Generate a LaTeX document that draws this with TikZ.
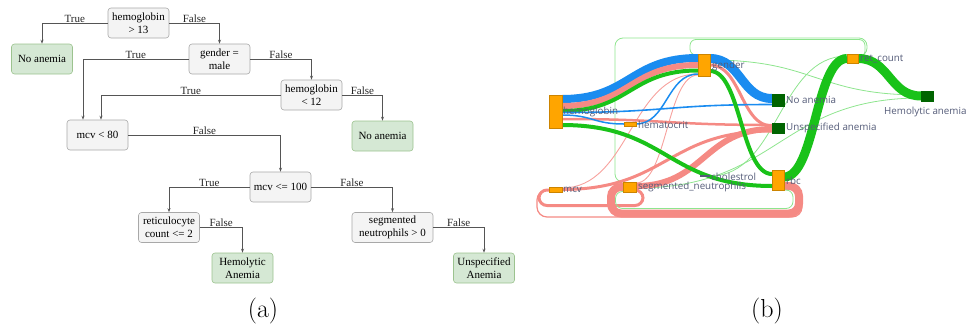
\documentclass[tikz,border=0pt]{standalone}
\usepackage{fontspec}
\newfontfamily\treefont{Liberation Serif}
\newfontfamily\skfont{Open Sans}
\usetikzlibrary{arrows.meta}
\definecolor{boxfill}{HTML}{F4F4F4}
\definecolor{boxdraw}{HTML}{A8A8A8}
\definecolor{leaffill}{HTML}{D5E8D4}
\definecolor{leafdraw}{HTML}{9CC38F}
\definecolor{edgecol}{HTML}{555555}
\definecolor{skblue}{HTML}{1A8CF0}
\definecolor{skpink}{HTML}{F58A84}
\definecolor{skgreen}{HTML}{19C219}
\definecolor{sklight}{HTML}{8EE58E}
\definecolor{skorange}{HTML}{FFA500}
\definecolor{skdark}{HTML}{006400}
\definecolor{sktext}{HTML}{545B78}
\newcommand{\sflow}[6]{\draw[line width=#6pt,#5] (#1,#2) .. controls ({(#1+#3)/2},#2) and ({(#1+#3)/2},#4) .. (#3,#4);}
\begin{document}
\begin{tikzpicture}[x=1pt,y=-1pt,
  tbox/.style={draw=boxdraw,fill=boxfill,rounded corners=3pt,minimum width=61pt,minimum height=30pt,align=center,inner sep=1pt,font=\treefont\fontsize{11}{13}\selectfont,line width=0.6pt},
  tleaf/.style={tbox,draw=leafdraw,fill=leaffill},
  tarr/.style={draw=edgecol,line width=0.7pt,-{Stealth[length=4pt,width=3pt]}},
  tlab/.style={above,inner sep=0.5pt,font=\treefont\fontsize{11}{13}\selectfont,text=black!85},
  snode/.style={fill=skorange,draw=skorange!80!black,line width=0.3pt},
  stgt/.style={fill=skdark,draw=skdark,line width=0.3pt},
  slab/.style={anchor=west,inner sep=0pt,font=\skfont\fontsize{9.8}{11}\selectfont,text=sktext},
  captext/.style={anchor=base,font=\fontsize{26}{30}\selectfont}]
\useasboundingbox (0,0) rectangle (967,327);

% ---------------- (a) decision tree ----------------
\node[tbox] (h13) at (138.5,23) {hemoglobin\\> 13};
\node[tleaf] (na1) at (42,59) {No anemia};
\node[tbox] (gm) at (219.5,59) {gender =\\male};
\node[tbox] (h12) at (311.5,95) {hemoglobin\\< 12};
\node[tleaf] (na2) at (382.5,136) {No anemia};
\node[tbox] (m80) at (97.5,135) {mcv < 80};
\node[tbox] (m100) at (280.5,187) {mcv <= 100};
\node[tbox] (ret) at (169,227.5) {reticulocyte\\count <= 2};
\node[tleaf] (hem) at (242.5,268) {Hemolytic\\Anemia};
\node[tbox,minimum width=81pt] (seg) at (392.5,227.5) {segmented\\neutrophils > 0};
\node[tleaf] (una) at (484,268) {Unspecified\\Anemia};

\draw[tarr] (h13.west) -| node[tlab,pos=0.25]{True} (na1.north);
\draw[tarr] (h13.east) -| node[tlab,pos=0.25]{False} (gm.north);
\draw[tarr] (gm.west) -| node[tlab,pos=0.25]{True} ([xshift=-14.5pt]m80.north);
\draw[tarr] (gm.east) -| node[tlab,pos=0.25]{False} (h12.north);
\draw[tarr] (h12.west) -| node[tlab,pos=0.25]{True} ([xshift=3.5pt]m80.north);
\draw[tarr] (h12.east) -| node[tlab,pos=0.25]{False} (na2.north);
\draw[tarr] (m80.east) -| node[tlab,pos=0.25]{False} (m100.north);
\draw[tarr] (m100.west) -| node[tlab,pos=0.25]{True} (ret.north);
\draw[tarr] (m100.east) -| node[tlab,pos=0.25]{False} (seg.north);
\draw[tarr] (ret.east) -| node[tlab,pos=0.25]{False} (hem.north);
\draw[tarr] (seg.east) -| node[tlab,pos=0.25]{False} (una.north);

\node[captext] (capa) at (263,317) {(a)};

% ---------------- (b) sankey ----------------
% loops
\draw[skpink,line width=1.2pt,rounded corners=10pt] (784,189) -- (802,189) -- (802,217) -- (537,217) -- (537,190) -- (549,190);
\draw[skpink,line width=8pt,rounded corners=10pt] (784,186) -- (799,186) -- (799,213.5) -- (611,213.5) -- (611,187) -- (623,187);
\draw[skpink,line width=3pt,rounded corners=8pt] (636,190) -- (643,190) -- (643,205.5) -- (539,205.5) -- (539,190) -- (549,190);
\draw[sklight,line width=0.8pt,rounded corners=7pt] (784,190) -- (793,190) -- (793,208.5) -- (615.5,208.5) -- (615.5,191.5) -- (623,191.5);
\draw[sklight,line width=0.8pt,rounded corners=8pt] (858,56) -- (867,56) -- (867,38) -- (615,38) -- (615,182) -- (623,182);
\draw[sklight,line width=0.8pt,rounded corners=6pt] (858,57) -- (865,57) -- (865,39.5) -- (690,39.5) -- (690,55) -- (698,55);

% thin links
\sflow{710}{60}{921}{95}{sklight}{0.8}
\sflow{710}{176}{847}{56}{sklight}{0.8}
\sflow{636}{188}{921}{98}{sklight}{0.8}
\sflow{562}{188}{698}{74}{skpink!80}{0.9}
\sflow{636}{183}{698}{75}{skpink!80}{0.9}
\sflow{562}{119}{772}{125}{skpink}{2.5}

% pink bands to unspecified anemia
\sflow{562}{189.5}{772}{131}{skpink}{3}
\sflow{636}{186}{772}{129}{skpink}{6}
\sflow{710}{65}{772}{126}{skpink}{3}

% main bands
\sflow{562}{99}{698}{58}{skblue}{8}
\sflow{562}{106}{698}{65}{skpink}{6}
\sflow{562}{111}{698}{70.5}{skgreen}{4}
\sflow{710}{58.5}{772}{98.5}{skblue}{9}
\sflow{562}{112.5}{772}{104.5}{skblue}{1.6}
\sflow{562}{115}{624}{124}{skblue}{1.5}
\sflow{636}{124}{698}{74}{skblue}{1.5}
\sflow{710}{71}{772}{174}{skgreen}{4}
\sflow{562}{125}{772}{186}{skgreen}{4}
\sflow{784}{177}{847}{58.5}{skgreen}{9}
\sflow{858}{58.5}{921}{96}{skgreen}{9}

% nodes
\fill[snode] (549,95) rectangle (562,128) coordinate (hb);
\fill[snode] (698,54) rectangle (710,76) coordinate (gd);
\fill[snode] (624,122) rectangle (636,126) coordinate (hc);
\fill[snode] (549,187) rectangle (562,192) coordinate (mc);
\fill[snode] (623,182) rectangle (636,192) coordinate (sn);
\fill[fill=sktext] (700,175.3) rectangle (710,176.7) coordinate (ch);
\fill[snode] (772,170) rectangle (784,190) coordinate (rb);
\fill[snode] (847,54) rectangle (858,63) coordinate (rc);
\fill[stgt] (772,94) rectangle (784,106) coordinate (na);
\fill[stgt] (772,123) rectangle (784,133) coordinate (ua);
\fill[stgt] (921,91) rectangle (933,101) coordinate (ha);

% labels
\node[slab] (lhb) at (563,112) {hemoglobin};
\node[slab] (lgd) at (712,65.5) {gender};
\node[slab] (lhc) at (638,124.5) {hematocrit};
\node[slab] (lmc) at (563,190) {mcv};
\node[slab] (lsn) at (638,187) {segmented\_neutrophils};
\node[slab] (lch) at (711,177) {cholestrol};
\node[slab] (lrb) at (786,180.5) {rbc};
\node[slab] (lrc) at (860,59) {ret\_count};
\node[slab] (lna) at (786,100) {No anemia};
\node[slab] (lua) at (786,128) {Unspecified anemia};
\node[slab] (lha) at (884,112) {Hemolytic anemia};

\node[captext] (capb) at (767,317) {(b)};
\end{tikzpicture}
\end{document}
